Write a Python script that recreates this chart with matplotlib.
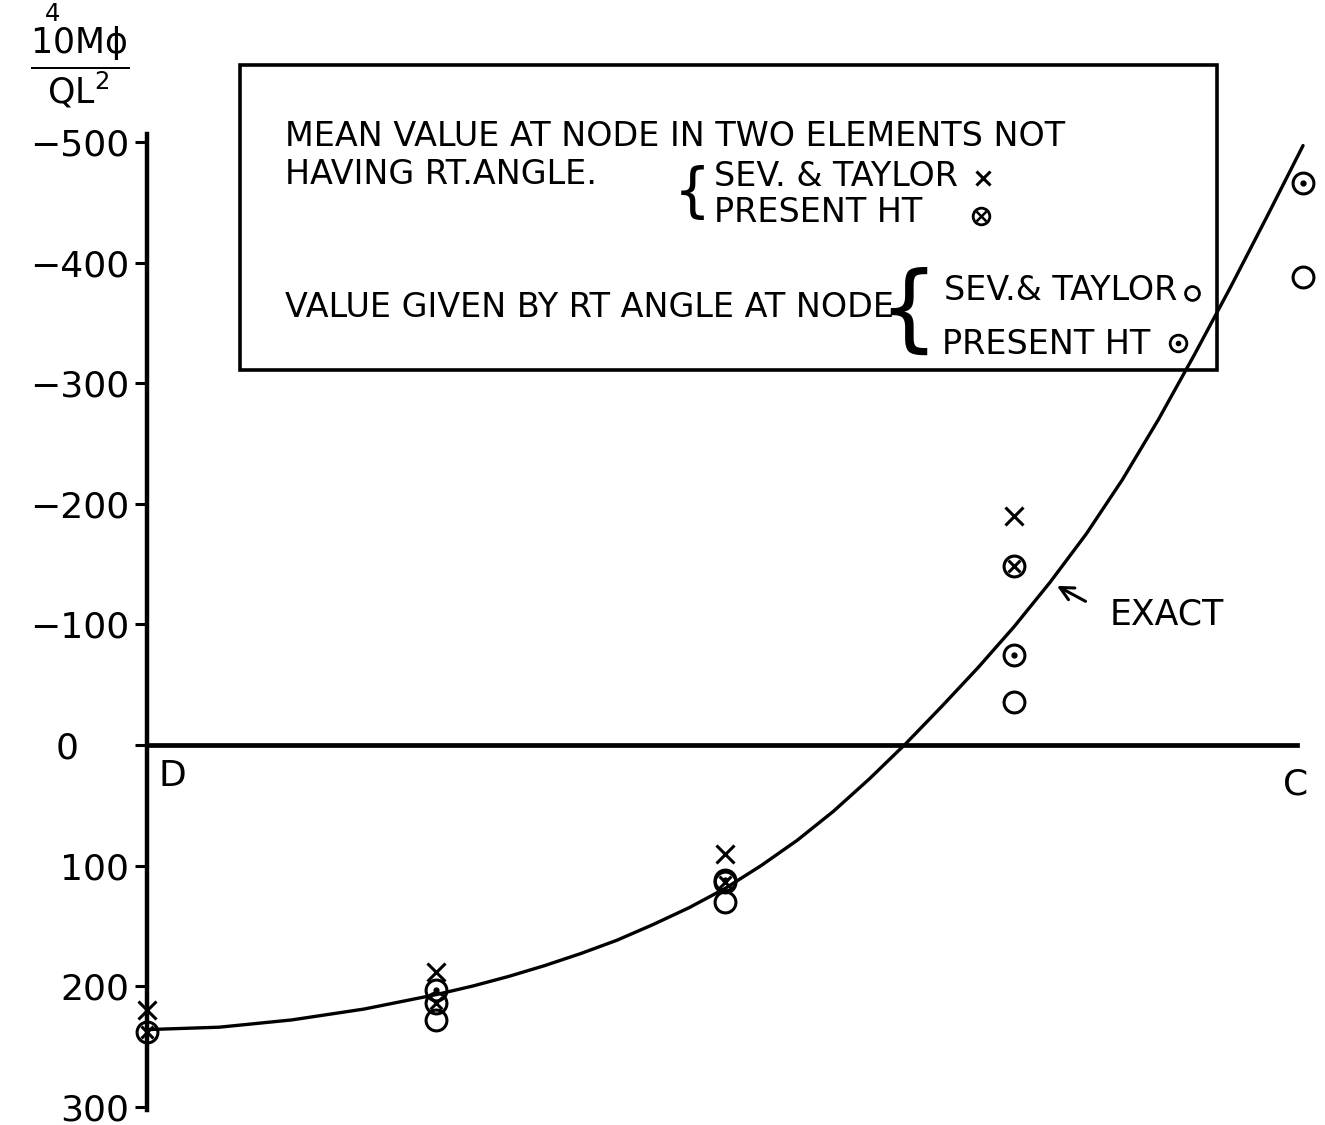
import matplotlib
matplotlib.use("Agg")
import matplotlib.pyplot as plt
from matplotlib.patches import Rectangle
from matplotlib.transforms import ScaledTranslation

plt.rcParams['axes.unicode_minus'] = False
plt.rcParams['mathtext.fontset'] = 'dejavusans'
plt.rcParams['font.family'] = ['DejaVu Sans']

# Node positions along the edge D (0) to C (4)
mean_nodes = [0, 1, 2, 3]
rt_nodes = [1, 2, 3, 4]

# 10^4 M_phi / (Q L^2); negative values plot upward
sev_taylor_mean = [220, 188, 90, -190]
present_mean = [238, 214, 114, -148]
sev_taylor_rt = [228, 130, -36, -388]
present_rt = [203, 112, -75, -466]

# Exact solution read along the edge
exact_u = [0.0, 0.25, 0.5, 0.75, 1.0, 1.125, 1.25, 1.375, 1.5, 1.625, 1.75,
           1.875, 2.0, 2.125, 2.25, 2.375, 2.5, 2.625, 2.75, 2.875, 3.0,
           3.125, 3.25, 3.375, 3.5, 3.625, 3.75, 3.875, 4.0]
exact_v = [236, 234, 228, 219, 207, 200, 192, 183, 173, 162, 149,
           135, 119, 100, 79, 55, 28, -1, -32, -64, -98,
           -135, -175, -220, -270, -324, -380, -438, -497]

tick_vals = [-500, -400, -300, -200, -100, 0, 100, 200, 300]
tick_labels = ['\u2212500', '\u2212400', '\u2212300', '\u2212200', '\u2212100',
               '0', '100', '200', '300']

W, H = 1325, 1125
fig = plt.figure(figsize=(W / 100, H / 100), dpi=100)
ax = fig.add_axes([0, 0, 1, 1])
ax.set_xlim(-0.5087, 4.076)
ax.set_ylim(315.1, -617.7)


def fx(px):
    return px / W


def fy(py):
    return 1 - py / H


# axes: vertical moment axis through D, zero line D–C
for s in ('top', 'right'):
    ax.spines[s].set_visible(False)
ax.spines['left'].set_position(('data', 0))
ax.spines['left'].set_bounds(-507, 303)
ax.spines['left'].set_linewidth(3.2)
ax.spines['bottom'].set_position(('data', 0))
ax.spines['bottom'].set_bounds(0, 3.98)
ax.spines['bottom'].set_linewidth(3.4)
ax.set_xticks([])
ax.set_yticks(tick_vals, labels=tick_labels)
ax.tick_params(axis='y', direction='out', length=9, width=2.2, pad=4,
               labelsize=26)
# the zero label sits further out than the others
zero_tick = ax.yaxis.get_major_ticks()[tick_vals.index(0)]
zero_tick.label1.set_transform(zero_tick.label1.get_transform()
                               + ScaledTranslation(-0.5, 0, fig.dpi_scale_trans))

ax.text(0.04, 26, 'D', fontsize=26, ha='left', va='center')
ax.text(3.93, 33, 'C', fontsize=26, ha='left', va='center')

ax.text(fx(80), fy(56),
        r'$\dfrac{\overset{4}{10}\mathrm{Mϕ}}{\mathrm{QL}^{2}}$',
        transform=ax.transAxes, fontsize=25, ha='center', va='center')

# exact curve
ax.plot(exact_u, exact_v, color='black', lw=2.4, solid_capstyle='round',
        solid_joinstyle='round')

ms = 15
mew = 2.2
# mean values at nodes in two elements without a right angle
ax.plot(mean_nodes, sev_taylor_mean, ls='none', marker='x', ms=13, mew=mew,
        color='black')
ax.plot(mean_nodes, present_mean, ls='none', marker='o', ms=ms, mew=mew,
        mfc='none', mec='black')
ax.plot(mean_nodes, present_mean, ls='none', marker='x', ms=9, mew=mew,
        color='black')
# values given by the right angle at the node
ax.plot(rt_nodes, sev_taylor_rt, ls='none', marker='o', ms=ms, mew=mew,
        mfc='none', mec='black')
ax.plot(rt_nodes, present_rt, ls='none', marker='o', ms=ms, mew=mew,
        mfc='none', mec='black')
ax.plot(rt_nodes, present_rt, ls='none', marker='o', ms=3.5, color='black')

# EXACT label
ax.annotate('', xy=(3.14, -133), xytext=(3.256, -118),
            arrowprops=dict(arrowstyle='->', lw=2.2, color='black',
                            mutation_scale=24))
ax.text(3.332, -108, 'EXACT', fontsize=25, ha='left', va='center')

# key box
ax.add_patch(Rectangle((fx(240), fy(370)), fx(1217) - fx(240),
                       fy(65) - fy(370), transform=ax.transAxes,
                       fill=False, lw=2.6, ec='black'))

key_fs = 24
ax.text(fx(285), fy(137), 'MEAN VALUE AT NODE IN TWO ELEMENTS NOT',
        transform=ax.transAxes, fontsize=key_fs, va='center')
ax.text(fx(285), fy(174), 'HAVING RT.ANGLE.', transform=ax.transAxes,
        fontsize=key_fs, va='center')
ax.text(fx(711), fy(193), '{', transform=ax.transAxes, fontsize=42,
        va='center', ha='right')
ax.text(fx(714), fy(177), 'SEV. & TAYLOR', transform=ax.transAxes,
        fontsize=key_fs, va='center')
ax.text(fx(714), fy(212), 'PRESENT HT', transform=ax.transAxes,
        fontsize=key_fs, va='center')
ax.text(fx(285), fy(307), 'VALUE GIVEN BY RT ANGLE AT NODE',
        transform=ax.transAxes, fontsize=key_fs, va='center')
ax.text(fx(938), fy(313), '{', transform=ax.transAxes, fontsize=68,
        va='center', ha='right')
ax.text(fx(944), fy(290), 'SEV.& TAYLOR', transform=ax.transAxes,
        fontsize=key_fs, va='center')
ax.text(fx(942), fy(345), 'PRESENT HT', transform=ax.transAxes,
        fontsize=key_fs, va='center')

# key symbols
ax.plot([fx(983)], [fy(178)], transform=ax.transAxes, marker='x', ms=10,
        mew=2.2, color='black')
ax.plot([fx(981)], [fy(216)], transform=ax.transAxes, marker='o', ms=12,
        mew=2.0, mfc='none', mec='black')
ax.plot([fx(981)], [fy(216)], transform=ax.transAxes, marker='x', ms=7,
        mew=1.8, color='black')
ax.plot([fx(1192)], [fy(293)], transform=ax.transAxes, marker='o', ms=10,
        mew=2.0, mfc='none', mec='black')
ax.plot([fx(1178)], [fy(343)], transform=ax.transAxes, marker='o', ms=12,
        mew=2.0, mfc='none', mec='black')
ax.plot([fx(1178)], [fy(343)], transform=ax.transAxes, marker='o', ms=3,
        color='black')

fig.savefig('out.png', dpi=100, facecolor='white')
